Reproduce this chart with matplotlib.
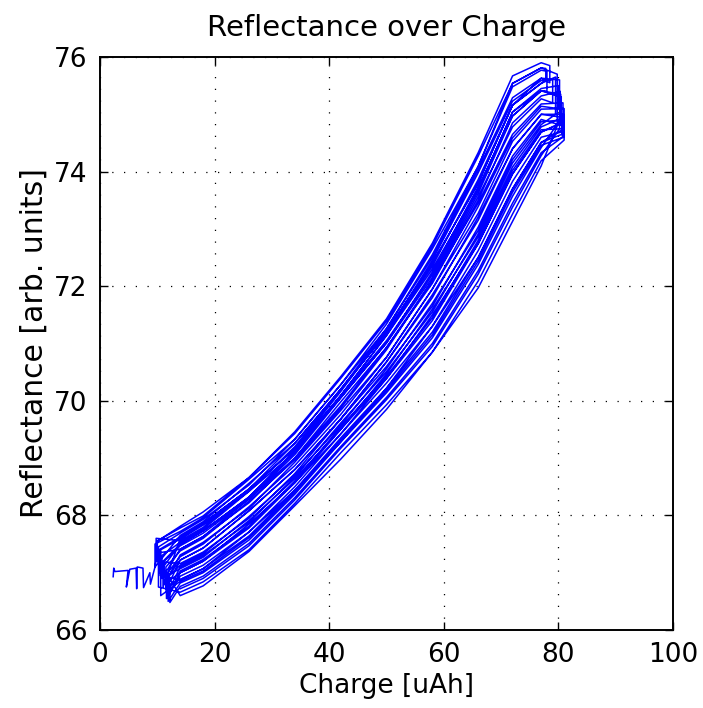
import matplotlib
matplotlib.use("Agg")
import matplotlib.pyplot as plt

# start-up trace before the first cycle
lead_q = [2.3, 2.4, 2.6, 4.9, 4.6, 5.2, 6.3, 6.4, 6.5, 7.5, 7.6, 8.7, 8.8, 9.6]
lead_r = [66.93, 67.08, 67.02, 67.04, 66.75, 67.06, 67.08, 66.72, 67.10, 67.08, 66.74, 67.00, 66.80, 67.10]

q_grid = [14, 18, 26, 34, 42, 50, 58, 66, 72, 77]

# bottom of each cycle (rest at constant charge)
q_lo = [10.0, 9.6, 10.3, 10.8, 11.2, 11.5, 9.8, 11.8, 12.0, 11.6, 10.5, 11.9, 12.2, 10.2,
        9.9, 11.0, 11.7, 10.6]
r_lo_a = [67.35, 67.10, 67.00, 66.90, 66.80, 66.70, 67.20, 66.65, 66.60, 66.55, 66.95, 66.50, 66.48, 66.75,
          67.25, 66.75, 66.55, 66.60]
r_lo_b = [67.55, 67.50, 67.40, 67.30, 67.20, 67.10, 67.60, 67.00, 66.95, 66.90, 67.35, 66.85, 66.80, 67.45,
          67.55, 67.20, 66.95, 67.40]

# top of each cycle
q_hi = [78.5, 78.0, 79.0, 80.0, 80.5, 80.8, 79.5, 81.0, 80.9, 80.6, 80.3, 80.7, 81.0, 79.8,
        77.8, 80.4, 80.9, 80.2]
r_hi_a = [75.85, 75.75, 75.60, 75.50, 75.30, 75.20, 75.65, 75.10, 75.00, 74.90, 75.40, 74.85, 74.75, 75.70,
          75.80, 75.35, 74.95, 75.60]
r_hi_b = [75.55, 75.40, 75.20, 75.10, 74.95, 74.80, 75.00, 74.75, 74.70, 74.65, 74.90, 74.60, 74.55, 74.80,
          75.60, 74.85, 74.60, 74.75]

# reflectance on charge (up) and discharge (down), at q_grid
r_up = [
    [67.81, 68.06, 68.66, 69.46, 70.42, 71.43, 72.75, 74.33, 75.67, 75.90],
    [67.72, 67.96, 68.63, 69.33, 70.28, 71.34, 72.65, 74.09, 75.48, 75.77],
    [67.62, 67.86, 68.46, 69.26, 70.20, 71.18, 72.45, 73.98, 75.23, 75.59],
    [67.53, 67.76, 68.42, 69.10, 70.09, 71.14, 72.30, 73.68, 75.04, 75.45],
    [67.47, 67.69, 68.29, 69.06, 70.05, 71.01, 72.15, 73.62, 74.97, 75.41],
    [67.38, 67.60, 68.25, 68.97, 69.87, 70.89, 72.10, 73.45, 74.65, 75.18],
    [67.56, 67.79, 68.46, 69.16, 70.09, 71.14, 72.40, 73.80, 75.16, 75.54],
    [67.28, 67.50, 68.15, 68.87, 69.76, 70.76, 71.95, 73.27, 74.53, 75.09],
    [67.22, 67.43, 68.08, 68.80, 69.68, 70.68, 71.85, 73.15, 74.40, 75.00],
    [67.13, 67.33, 67.98, 68.70, 69.57, 70.56, 71.70, 72.97, 74.21, 74.87],
    [67.41, 67.63, 68.22, 69.00, 69.98, 70.93, 72.05, 73.50, 74.85, 75.32],
    [67.00, 67.20, 67.85, 68.57, 69.42, 70.39, 71.50, 72.74, 73.96, 74.69],
    [66.88, 67.07, 67.71, 68.44, 69.28, 70.22, 71.30, 72.50, 73.70, 74.51],
    [67.69, 67.93, 68.53, 69.33, 70.28, 71.26, 72.55, 74.09, 75.54, 75.81],
    [67.78, 67.99, 68.66, 69.43, 70.39, 71.39, 72.70, 74.27, 75.54, 75.81],
    [67.50, 67.73, 68.32, 69.10, 70.09, 71.05, 72.20, 73.68, 75.04, 75.41],
    [67.07, 67.27, 67.91, 68.64, 69.50, 70.47, 71.60, 72.86, 74.08, 74.78],
    [67.59, 67.86, 68.46, 69.16, 70.16, 71.22, 72.40, 73.80, 75.16, 75.63],
]
r_down = [
    [67.65, 67.89, 68.56, 69.26, 70.20, 71.26, 72.50, 74.04, 75.29, 75.63],
    [67.50, 67.73, 68.32, 69.13, 70.05, 71.01, 72.25, 73.74, 74.97, 75.41],
    [67.41, 67.63, 68.29, 69.00, 69.91, 70.93, 72.10, 73.56, 74.78, 75.27],
    [67.31, 67.53, 68.12, 68.93, 69.83, 70.76, 71.95, 73.39, 74.59, 75.14],
    [67.22, 67.43, 68.08, 68.80, 69.68, 70.68, 71.80, 73.21, 74.40, 75.00],
    [67.16, 67.36, 67.95, 68.73, 69.68, 70.60, 71.65, 73.03, 74.27, 74.91],
    [67.10, 67.30, 67.88, 68.67, 69.61, 70.51, 71.55, 72.91, 74.15, 74.82],
    [67.03, 67.23, 67.81, 68.60, 69.54, 70.43, 71.45, 72.80, 74.02, 74.73],
    [66.94, 67.13, 67.71, 68.50, 69.42, 70.31, 71.30, 72.62, 73.83, 74.60],
    [66.88, 67.07, 67.64, 68.44, 69.35, 70.22, 71.20, 72.50, 73.70, 74.51],
    [66.82, 67.00, 67.57, 68.37, 69.28, 70.14, 71.10, 72.38, 73.57, 74.42],
    [66.76, 66.94, 67.51, 68.31, 69.20, 70.06, 71.00, 72.27, 73.45, 74.33],
    [66.66, 66.84, 67.40, 68.21, 69.09, 69.93, 70.85, 72.09, 73.26, 74.19],
    [66.60, 66.77, 67.37, 68.17, 68.98, 69.85, 70.85, 71.97, 73.13, 74.10],
    [67.59, 67.83, 68.42, 69.20, 70.20, 71.18, 72.35, 73.86, 75.16, 75.54],
    [67.00, 67.20, 67.78, 68.57, 69.50, 70.39, 71.40, 72.74, 73.96, 74.69],
    [66.85, 67.03, 67.61, 68.40, 69.31, 70.18, 71.15, 72.44, 73.64, 74.46],
    [66.72, 66.90, 67.47, 68.27, 69.17, 70.02, 70.95, 72.21, 73.38, 74.28],
]

# build the continuous measurement trace
charge = list(lead_q)
refl = list(lead_r)
for i in range(len(q_lo)):
    charge += [q_lo[i], q_lo[i]] + q_grid + [q_hi[i], q_hi[i]] + q_grid[::-1]
    refl += [r_lo_a[i], r_lo_b[i]] + r_up[i] + [r_hi_a[i], r_hi_b[i]] + r_down[i][::-1]

fig = plt.figure(figsize=(7.03, 7.08), dpi=100)
ax = fig.add_axes([100/703, 78/708, 573/703, 573/708])

ax.plot(charge, refl, color="#0000ff", linewidth=1.1)

ax.set_xlim(0, 100)
ax.set_ylim(66, 76)
ax.set_xticks([0, 20, 40, 60, 80, 100])
ax.set_yticks([66, 68, 70, 72, 74, 76])

ax.grid(True, color="k", linewidth=0.9, linestyle=(0, (1.0, 8.4)))
ax.tick_params(direction="in", length=6, width=1.0, top=True, right=True,
               labelsize=19, pad=9)
for s in ax.spines.values():
    s.set_linewidth(1.4)

ax.set_title("Reflectance over Charge", fontsize=21, pad=15)
ax.set_xlabel("Charge [uAh]", fontsize=19, labelpad=3)
ax.set_ylabel("Reflectance [arb. units]", fontsize=21.5, labelpad=4)

fig.savefig("out.png", dpi=100, facecolor="white")
